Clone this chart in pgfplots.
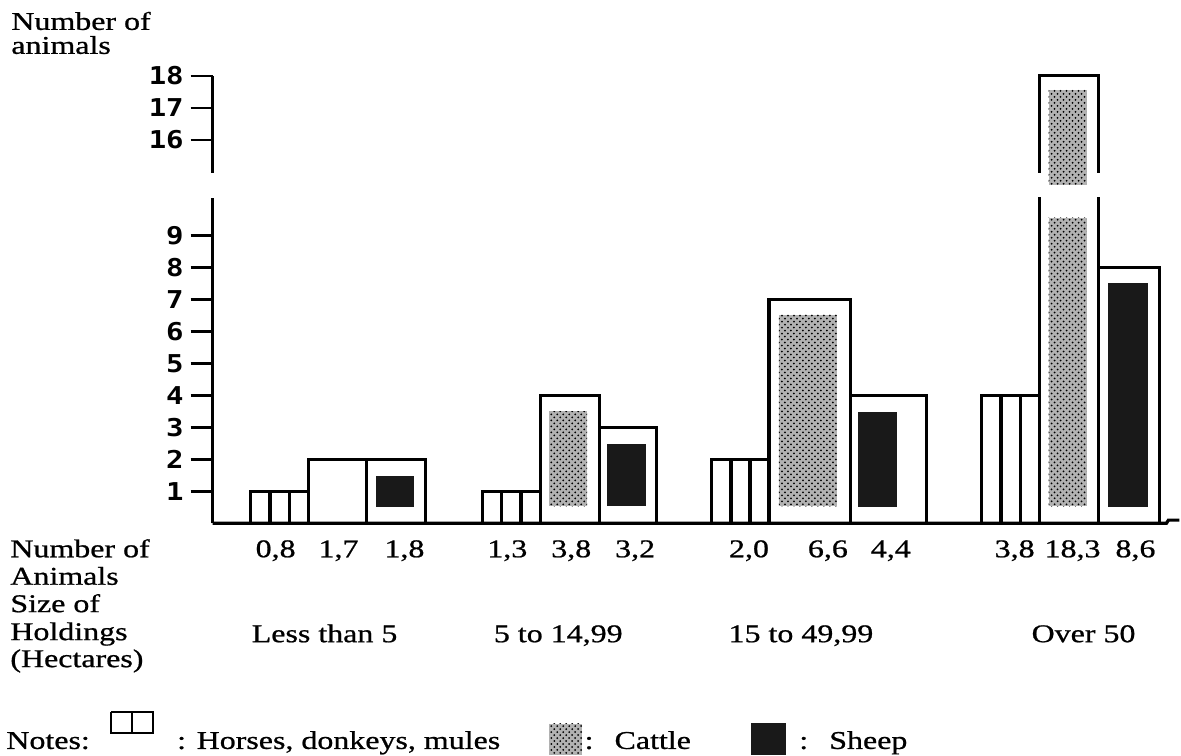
\documentclass[border=0pt]{standalone}
\usepackage{fontspec}
\setmainfont{Liberation Serif}[FakeStretch=1.25, FakeBold=0.8]
\newfontfamily\tickfont{DejaVu Sans Mono}[FakeStretch=1.18]
\usepackage{pgfplots}
\pgfplotsset{compat=1.18}
\usetikzlibrary{patterns}
\newcommand\lab{\fontsize{12.8}{14}\selectfont}
\pgfplotsset{
  outer/.style={ybar, bar shift=0, fill=white, draw=black, line width=1.6pt},
  dotsfill/.style={fill=black!30, draw=none, postaction={pattern=crosshatch dots, pattern color=black}},
  blackfill/.style={fill=black!90, draw=none},
  axisline/.style={black, line width=1.6pt},
}
\tikzset{txt/.style={font=\lab, inner sep=0pt}}
\begin{document}
\begin{tikzpicture}
\begin{axis}[
  scale only axis, width=590.5pt, height=378.5pt,
  xmin=-213, xmax=968, ymin=-7.28125, ymax=16.375,
  axis x line=none, axis y line=middle,
  y axis line style={draw=none},
  ytick={1,2,3,4,5,6,7,8,9,12,13,14},
  yticklabels={1,2,3,4,5,6,7,8,9,16,17,18},
  tick align=outside, major tick length=11pt,
  ytick style={black, line width=1.2pt},
  yticklabel style={font=\tickfont\bfseries\fontsize{12.3}{14}\selectfont, anchor=east},
  clip=false, no markers,
]
% invisible frame to fix the picture size
\addplot[draw=none] coordinates {(-213,-7.28125) (968,16.375)};

% ---- Horses, donkeys, mules (three cells per bar), drawn heights
\addplot[outer, bar width=19.33] coordinates {
  (47.7,1) (67,1) (86.3,1)
  (279.7,1) (299,1) (318.3,1)
  (509.5,2) (528.5,2) (547.5,2)
  (779.7,4) (799,4) (818.3,4)};

% ---- Cattle (outer bars)
\addplot[outer, bar width=58] coordinates {(125,2)};
\addplot[outer, bar width=59] coordinates {(357.5,4)};
\addplot[outer, bar width=82] coordinates {(598,7)};
\addplot[outer, bar width=59, y filter/.expression={y-4}] coordinates {(857.5,18)};

% ---- Sheep (outer bars)
\addplot[outer, bar width=59] coordinates {(183.5,2)};
\addplot[outer, bar width=57] coordinates {(415.5,3)};
\addplot[outer, bar width=76] coordinates {(677,4)};
\addplot[outer, bar width=61] coordinates {(917.5,8)};

% break in the tall cattle bar
\addplot[fill=white, draw=none] coordinates {(824,10.2) (891,10.2) (891,10.97) (824,10.97)};

% ---- Cattle inner (dotted)
\addplot[dotsfill] coordinates {(337,0.53) (375,0.53) (375,3.5) (337,3.5)};
\addplot[dotsfill] coordinates {(567,0.53) (625,0.53) (625,6.53) (567,6.53)};
\addplot[dotsfill] coordinates {(837,0.53) (875,0.53) (875,9.56) (837,9.56)};
\addplot[dotsfill, y filter/.expression={y-4}] coordinates {(837,14.6) (875,14.6) (875,17.56) (837,17.56)};

% ---- Sheep inner (black)
\addplot[blackfill] coordinates {(164,0.5) (202,0.5) (202,1.47) (164,1.47)};
\addplot[blackfill] coordinates {(395,0.53) (434,0.53) (434,2.47) (395,2.47)};
\addplot[blackfill] coordinates {(646,0.5) (685,0.5) (685,3.47) (646,3.47)};
\addplot[blackfill] coordinates {(896,0.5) (937,0.5) (937,7.53) (896,7.53)};

% ---- axis lines (broken y axis, baseline)
\addplot[axisline] coordinates {(0,0) (0,10.19)};
\addplot[axisline] coordinates {(0,10.97) (0,14)};
\addplot[axisline] coordinates {(0,0) (955,0) (957,0.1) (968,0.1)};

% ---- legend swatches
\addplot[black, line width=1pt] coordinates {(-102,-5.906) (-60,-5.906) (-60,-6.5625) (-102,-6.5625) (-102,-5.906)};
\addplot[black, line width=1pt] coordinates {(-81,-5.906) (-81,-6.5625)};
\addplot[dotsfill] coordinates {(337,-6.28) (370,-6.28) (370,-7.25) (337,-7.25)};
\addplot[blackfill] coordinates {(539,-6.25) (574,-6.25) (574,-7.25) (539,-7.25)};

% ---- texts
\node[anchor=base west, txt] at (axis cs:-202,15.44) {Number of};
\node[anchor=base west, txt] at (axis cs:-202,14.69) {animals};

\node[anchor=base west, txt] at (axis cs:-203,-1.0625) {Number of};
\node[anchor=base west, txt] at (axis cs:-203,-1.922) {Animals};
\node[anchor=base west, txt] at (axis cs:-203,-2.78) {Size of};
\node[anchor=base west, txt] at (axis cs:-203,-3.656) {Holdings};
\node[anchor=base west, txt] at (axis cs:-203,-4.5) {(Hectares)};

\node[anchor=base, txt] at (axis cs:63,-1.0625) {0,8};
\node[anchor=base, txt] at (axis cs:126,-1.0625) {1,7};
\node[anchor=base, txt] at (axis cs:192,-1.0625) {1,8};
\node[anchor=base, txt] at (axis cs:295,-1.0625) {1,3};
\node[anchor=base, txt] at (axis cs:359,-1.0625) {3,8};
\node[anchor=base, txt] at (axis cs:423,-1.0625) {3,2};
\node[anchor=base, txt] at (axis cs:537,-1.0625) {2,0};
\node[anchor=base, txt] at (axis cs:616,-1.0625) {6,6};
\node[anchor=base, txt] at (axis cs:679,-1.0625) {4,4};
\node[anchor=base, txt] at (axis cs:803,-1.0625) {3,8};
\node[anchor=base, txt] at (axis cs:861,-1.0625) {18,3};
\node[anchor=base, txt] at (axis cs:924,-1.0625) {8,6};

\node[anchor=base, txt] at (axis cs:112,-3.72) {Less than 5};
\node[anchor=base, txt] at (axis cs:346,-3.72) {5 to 14,99};
\node[anchor=base, txt] at (axis cs:589,-3.72) {15 to 49,99};
\node[anchor=base, txt] at (axis cs:872,-3.72) {Over 50};

\node[anchor=base west, txt] at (axis cs:-207,-7.06) {Notes:};
\node[anchor=base west, txt] at (axis cs:-36,-7.06) {: Horses, donkeys, mules};
\node[anchor=base west, txt] at (axis cs:372,-7.06) {:};
\node[anchor=base west, txt] at (axis cs:402,-7.06) {Cattle};
\node[anchor=base west, txt] at (axis cs:587,-7.06) {:};
\node[anchor=base west, txt] at (axis cs:617,-7.06) {Sheep};
\end{axis}
\end{tikzpicture}
\end{document}
